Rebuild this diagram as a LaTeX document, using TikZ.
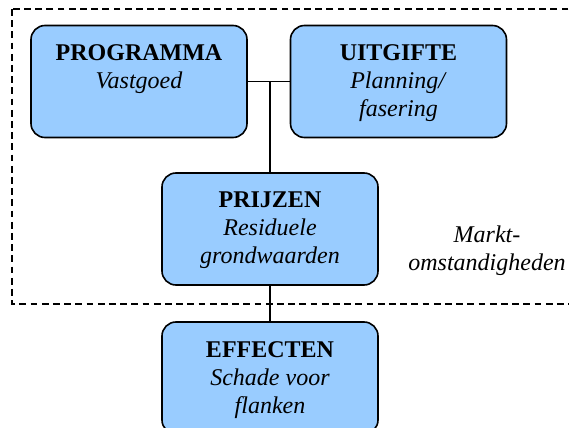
\documentclass[tikz,border=0pt]{standalone}
\usepackage{fontspec}
\setmainfont{Liberation Serif}
\usetikzlibrary{positioning}

\definecolor{blokblauw}{HTML}{99CCFF}

\tikzset{
  blok/.style={draw, fill=blokblauw, line width=0.8pt, rounded corners=7pt,
    minimum width=108pt, minimum height=56pt},
  tekst/.style={anchor=north, align=center, inner sep=0pt,
    font=\fontsize{12}{14}\selectfont},
  lijn/.style={line width=0.6pt},
}

\begin{document}
\begin{tikzpicture}[x=0.5pt,y=-0.5pt]
  \useasboundingbox (0,0) rectangle (569,428);
  % kader marktomstandigheden (rechts buiten beeld)
  \draw[lijn, dash pattern=on 3.4pt off 2.2pt] (12,9) rectangle (600,304);

  \foreach \naam/\x/\y in {prog/139/81.5, uitg/398.5/81.5, prijs/270/229, eff/270/378}{
    \node[blok] (\naam) at (\x,\y) {};
  }

  \node[tekst] (prog-t)  at ([yshift=-9.8pt]prog.north)  {\textbf{PROGRAMMA}\\\textit{Vastgoed}};
  \node[tekst] (uitg-t)  at ([yshift=-9.8pt]uitg.north)  {\textbf{UITGIFTE}\\\textit{Planning/}\\\textit{fasering}};
  \node[tekst] (prijs-t) at ([yshift=-9.8pt]prijs.north) {\textbf{PRIJZEN}\\\textit{Residuele}\\\textit{grondwaarden}};
  \node[tekst] (eff-t)   at ([yshift=-9.8pt]eff.north)   {\textbf{EFFECTEN}\\\textit{Schade voor}\\\textit{flanken}};

  \node[tekst] (markt) at (487,225) {\textit{Markt-}\\\textit{omstandigheden}};

  % verbindingen
  \draw[lijn] (prog.east) -- (uitg.west);
  \draw[lijn] (prijs.north) -- (prijs.north |- prog.east);
  \draw[lijn] (prijs.south) -- (eff.north);
\end{tikzpicture}
\end{document}
